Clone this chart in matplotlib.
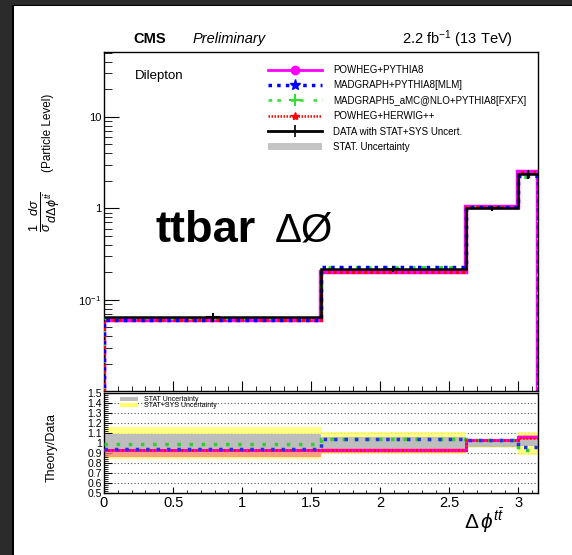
#!/usr/bin/env python3
# ttbar delta phi, normalised particle-level cross section + theory/data ratio

import numpy as np
import matplotlib
matplotlib.use("Agg")
import matplotlib.pyplot as plt
from matplotlib.lines import Line2D
from matplotlib.patches import Patch, Rectangle
from matplotlib.ticker import MultipleLocator, FixedLocator, NullFormatter

plt.rcParams["font.family"] = ["Liberation Sans", "DejaVu Sans"]
plt.rcParams["mathtext.fontset"] = "custom"
plt.rcParams["mathtext.rm"] = "Liberation Sans"
plt.rcParams["mathtext.it"] = "Liberation Sans:italic"
plt.rcParams["mathtext.bf"] = "Liberation Sans:bold"

# bin edges in delta phi
edges = [0.0, 1.571, 2.618, 3.0, np.pi]

# data (1/sigma dsigma/ddphi) and total uncertainty
data = [0.0645, 0.218, 1.0, 2.35]
data_err = [0.007, 0.016, 0.06, 0.25]

# theory / data ratios
ratio_powheg_py8 = [0.93, 0.93, 1.03, 1.06]
ratio_madgraph = [0.94, 1.04, 1.03, 0.96]
ratio_amcnlo = [0.99, 1.04, 1.03, 0.93]
ratio_powheg_hw = [0.93, 0.935, 1.03, 1.05]

# uncertainty bands in the ratio (half widths around 1)
stat_half = [0.09, 0.065, 0.035, 0.03]
statsys_half = [0.16, 0.11, 0.045, 0.115]

# pinkish band seen under the POWHEG curves
pink_lo = [0.86, 0.905, 1.02, 1.03]
pink_hi = [0.92, 0.955, 1.04, 1.08]

labels = ["POWHEG+PYTHIA8", "MADGRAPH+PYTHIA8[MLM]",
          "MADGRAPH5_aMC@NLO+PYTHIA8[FXFX]", "POWHEG+HERWIG++",
          "DATA with STAT+SYS Uncert.", "STAT. Uncertainty"]

ratio_ticks = [0.5, 0.6, 0.7, 0.8, 0.9, 1.0, 1.1, 1.2, 1.3, 1.4, 1.5]
ratio_ticklabels = ["0.5", "0.6", "0.7", "0.8", "0.9", "1", "1.1", "1.2",
                    "1.3", "1.4", "1.5"]

W, H = 572, 555


def fx(px):
    return px / W


def fy(py):
    return 1 - py / H


def main():
    fig = plt.figure(figsize=(W / 100, H / 100), dpi=100)
    fig.patch.set_facecolor("white")

    # screenshot frame
    fig.add_artist(Rectangle((0, 0), fx(12), 1, transform=fig.transFigure,
                             color="#2b2b2b", lw=0))
    fig.add_artist(Rectangle((0, fy(5)), 1, 5 / H, transform=fig.transFigure,
                             color="#2b2b2b", lw=0))
    fig.add_artist(Rectangle((fx(12), 0), 2 / W, fy(5), transform=fig.transFigure,
                             color="black", lw=0))
    fig.add_artist(Rectangle((fx(12), fy(6)), 1, 1 / H, transform=fig.transFigure,
                             color="black", lw=0))

    ax = fig.add_axes([fx(104), fy(391), fx(538) - fx(104), fy(52) - fy(391)])
    rax = fig.add_axes([fx(104), fy(493), fx(538) - fx(104), fy(393) - fy(493)])

    d = np.array(data)
    mc = {
        "pp": d * np.array(ratio_powheg_py8),
        "mg": d * np.array(ratio_madgraph),
        "amc": d * np.array(ratio_amcnlo),
        "ph": d * np.array(ratio_powheg_hw),
    }

    base = 1e-3
    ax.stairs(mc["pp"], edges, baseline=base, color="magenta", lw=3.2, zorder=2)
    ax.stairs(mc["amc"], edges, baseline=base, color="#33dd33", lw=2.2,
              ls=(0, (1.5, 2, 1.5, 4)), zorder=3)
    ax.stairs(mc["ph"], edges, baseline=base, color="red", lw=2.2,
              ls=(0, (1, 1)), zorder=3)
    ax.stairs(mc["mg"], edges, baseline=base, color="blue", lw=2.5,
              ls=(0, (1, 1.5)), zorder=4)
    ax.stairs(d, edges, baseline=None, color="black", lw=1.8, zorder=5)
    centers = 0.5 * (np.array(edges[:-1]) + np.array(edges[1:]))
    ax.errorbar(centers, d, yerr=data_err, fmt="none", ecolor="black",
                elinewidth=1.5, zorder=6)
    ax.plot(centers, d, ls="none", marker="_", ms=10, mew=1.5, color="black",
            zorder=6)

    ax.set_yscale("log")
    ax.set_xlim(0, np.pi)
    ax.set_ylim(0.0101, 51)
    ax.yaxis.set_major_locator(FixedLocator([0.01, 0.1, 1, 10]))
    ax.set_yticklabels([r"$10^{-2}$", r"$10^{-1}$", "1", "10"], fontsize=8)
    ax.yaxis.set_minor_formatter(NullFormatter())
    ax.xaxis.set_major_locator(MultipleLocator(0.5))
    ax.xaxis.set_minor_locator(MultipleLocator(0.1))
    ax.tick_params(axis="x", which="both", direction="in", labelbottom=False)
    ax.tick_params(axis="x", which="major", length=7)
    ax.tick_params(axis="x", which="minor", length=3.5)
    ax.tick_params(axis="y", which="major", direction="in", length=10.5, pad=2)
    ax.tick_params(axis="y", which="minor", direction="in", length=5.5)

    handles = [
        Line2D([], [], color="magenta", lw=2, marker="o", ms=6),
        Line2D([], [], color="blue", lw=2.5, ls=(0, (1, 1.5)), marker="*", ms=8),
        Line2D([], [], color="#33dd33", lw=1.8, ls=(0, (1.5, 2, 1.5, 4)),
               marker="+", ms=8, mew=1.5),
        Line2D([], [], color="red", lw=1.8, ls=(0, (0.6, 0.6)), marker="*", ms=6),
        Line2D([], [], color="black", lw=2, marker="|", ms=9, mew=1.2),
        Patch(facecolor="#c4c4c4", edgecolor="none"),
    ]
    ax.legend(handles, labels, loc="upper left",
              bbox_to_anchor=(fx(268), fy(65)), bbox_transform=fig.transFigure,
              frameon=False, fontsize=7, handlelength=5.6, handletextpad=1.1,
              labelspacing=0.56, borderpad=0, borderaxespad=0)

    # ratio panel
    for g in np.arange(0.6, 1.45, 0.1):
        rax.axhline(g, color="#555555", lw=0.8, ls=(0, (1, 2)), zorder=0.5)

    lo_ss = [1 - h for h in statsys_half] + [1 - statsys_half[-1]]
    hi_ss = [1 + h for h in statsys_half] + [1 + statsys_half[-1]]
    lo_st = [1 - h for h in stat_half] + [1 - stat_half[-1]]
    hi_st = [1 + h for h in stat_half] + [1 + stat_half[-1]]
    rax.fill_between(edges, lo_ss, hi_ss, step="post", color="#ffff66",
                     alpha=0.8, lw=0, zorder=1)
    rax.fill_between(edges, lo_st, hi_st, step="post", color="#bdbdbd",
                     lw=0, zorder=2)
    rax.fill_between(edges, pink_lo + [pink_lo[-1]], pink_hi + [pink_hi[-1]],
                     step="post", color="#ff7f7f", alpha=0.75, lw=0, zorder=2.5)

    rax.stairs(ratio_powheg_py8, edges, baseline=None, color="magenta",
               lw=2.2, zorder=3)
    rax.stairs(ratio_amcnlo, edges, baseline=None, color="#33cc33", lw=2.5,
               ls=(0, (1, 2.5)), zorder=4)
    rax.stairs(ratio_powheg_hw, edges, baseline=None, color="red", lw=1.8,
               ls=(0, (0.7, 0.7)), zorder=4)
    rax.stairs(ratio_madgraph, edges, baseline=None, color="#2233dd", lw=2.5,
               ls=(0, (1, 2)), zorder=5)

    rax.set_xlim(0, np.pi)
    rax.set_ylim(0.5, 1.5)
    rax.yaxis.set_major_locator(FixedLocator(ratio_ticks))
    rax.set_yticklabels(ratio_ticklabels, fontsize=7.5)
    rax.yaxis.set_minor_locator(MultipleLocator(0.02))
    rax.set_xticks([0, 0.5, 1, 1.5, 2, 2.5, 3])
    rax.set_xticklabels(["0", "0.5", "1", "1.5", "2", "2.5", "3"], fontsize=10.5)
    rax.xaxis.set_minor_locator(MultipleLocator(0.1))
    rax.tick_params(axis="x", which="major", direction="in", length=4, pad=2)
    rax.tick_params(axis="x", which="minor", direction="in", length=2)
    rax.tick_params(axis="y", which="major", direction="in", length=6, pad=1.5)
    rax.tick_params(axis="y", which="minor", direction="in", length=3)

    rax.legend([Patch(facecolor="#bdbdbd"), Patch(facecolor="#ffff66")],
               ["STAT Uncertainty", "STAT+SYS Uncertainty"],
               loc="upper left", bbox_to_anchor=(fx(120), fy(396)),
               bbox_transform=fig.transFigure, frameon=False, fontsize=5,
               handlelength=2.6, handleheight=0.5, handletextpad=0.8,
               labelspacing=-0.1, borderpad=0, borderaxespad=0)

    for a in (ax, rax):
        for s in a.spines.values():
            s.set_linewidth(1.0)

    # texts
    fig.text(fx(133), fy(39), "CMS", fontsize=10.5, fontweight="bold",
             va="center")
    fig.text(fx(193), fy(39), "Preliminary", fontsize=10.5, style="italic",
             va="center")
    fig.text(fx(513), fy(39), r"2.2 fb$^{\mathregular{-1}}$ (13 TeV)",
             fontsize=10.5, ha="right", va="center")
    fig.text(fx(135), fy(76), "Dilepton", fontsize=9.5, va="center")
    fig.text(fx(156), fy(230), "ttbar", fontsize=32.5, fontweight="bold",
             va="center")
    fig.text(fx(275), fy(230), "ΔØ", fontsize=29, va="center")

    fig.text(fx(45), fy(212), r"$\frac{1}{\sigma}\frac{d\sigma}{d\Delta\phi^{t\bar{t}}}$",
             fontsize=13, rotation=90, ha="center", va="center")
    fig.text(fx(48), fy(133), "(Particle Level)", fontsize=8.5, rotation=90,
             ha="center", va="center")
    fig.text(fx(52), fy(447), "Theory/Data", fontsize=9, rotation=90,
             ha="center", va="center")
    fig.text(fx(484), fy(521), r"$\Delta\,\phi^{t\bar{t}}$", fontsize=15,
             ha="center", va="center")

    fig.savefig("out.png", dpi=100)


if __name__ == "__main__":
    main()
